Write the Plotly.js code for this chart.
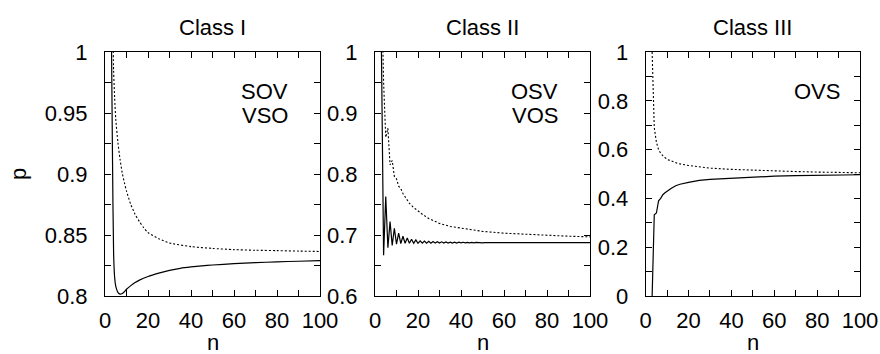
<!DOCTYPE html>
<html>
<head>
<meta charset="utf-8">
<script src="https://cdn.plot.ly/plotly-3.0.1.min.js"></script>
<style>html,body{margin:0;padding:0;background:#fff;}#chart{width:880px;height:354px;}</style>
</head>
<body>
<div id="chart"></div>
<script>
// Class I
const n1Solid = [3,3.5,4,4.5,5,5.5,6,7,8,9,10,12,14,16,20,25,30,35,40,45,50,60,70,80,90,100];
const p1Solid = [1.01,0.91,0.835,0.815,0.808,0.805,0.803,0.8015,0.802,0.8035,0.8055,0.8085,0.811,0.813,0.816,0.8187,0.821,0.8227,0.8238,0.8247,0.8254,0.8265,0.8273,0.828,0.8285,0.829];
const n1Dash = [3.5,4,4.5,5,6,7,8,9,10,12,14,16,18,20,25,30,40,50,60,70,80,90,100];
const p1Dash = [1.05,0.985,0.962,0.945,0.926,0.912,0.901,0.893,0.886,0.875,0.867,0.861,0.856,0.852,0.847,0.8435,0.8405,0.839,0.838,0.8375,0.8372,0.8368,0.8365];
// Class II
const n2Solid = [3,4,5,6,7,8,9,10,11,12,13,14,15,16,17,18,19,20,21,22,23,24,25,26,27,28,29,30,31,32,33,34,35,36,37,38,39,40,41,42,43,44,45,46,47,48,49,50,51,52,53,54,56,60,70,80,90,100];
const p2Solid = [1.0,0.667,0.763,0.679,0.722,0.683,0.711,0.685,0.703,0.686,0.698,0.6865,0.695,0.6865,0.693,0.6865,0.692,0.6864,0.6905,0.6865,0.69,0.6866,0.6896,0.6866,0.6893,0.6867,0.689,0.6867,0.6888,0.6868,0.6886,0.6868,0.6884,0.6869,0.6883,0.6869,0.6882,0.687,0.6881,0.687,0.688,0.6871,0.6879,0.6871,0.6878,0.6872,0.6877,0.6872,0.6876,0.6873,0.6875,0.6874,0.6874,0.6874,0.6874,0.6874,0.6874,0.6874];
const n2Dash = [3,4,5,6,7,8,9,10,11,12,13,14,15,16,18,20,22,25,30,35,40,50,60,70,80,90,100];
const p2Dash = [1.12,0.95,0.86,0.875,0.815,0.822,0.796,0.792,0.78,0.776,0.768,0.762,0.757,0.752,0.745,0.739,0.734,0.727,0.719,0.714,0.711,0.706,0.703,0.701,0.699,0.698,0.697];
// Class III
const n3Solid = [3,4,5,6,7,8,9,10,12,14,16,20,25,30,40,50,60,70,80,90,100];
const p3Solid = [0,0.333,0.34,0.39,0.4,0.415,0.423,0.43,0.442,0.452,0.458,0.466,0.474,0.478,0.483,0.488,0.491,0.493,0.495,0.496,0.497];
const n3Dash = [3,4,5,6,7,8,10,12,15,20,25,30,40,50,60,70,80,90,100];
const p3Dash = [1.0,0.69,0.63,0.6,0.585,0.575,0.56,0.552,0.543,0.535,0.528,0.524,0.519,0.515,0.512,0.51,0.508,0.506,0.505];

const panelTitles = ['Class I','Class II','Class III'];
const panelLabels = [['SOV','VSO'],['OSV','VOS'],['OVS']];
const xTickVals = [0,10,20,30,40,50,60,70,80,90,100];
const xTickText = ['0','','20','','40','','60','','80','','100'];
const y1TickVals = [0.8,0.825,0.85,0.875,0.9,0.925,0.95,0.975,1];
const y1TickText = ['0.8','','0.85','','0.9','','0.95','','1'];
const y2TickVals = [0.6,0.65,0.7,0.75,0.8,0.85,0.9,0.95,1];
const y2TickText = ['0.6','','0.7','','0.8','','0.9','','1'];
const y3TickVals = [0,0.1,0.2,0.3,0.4,0.5,0.6,0.7,0.8,0.9,1];
const y3TickText = ['0','','0.2','','0.4','','0.6','','0.8','','1'];

const W = 880, H = 354;
const FONT = {family: '"Liberation Sans", Arial, Helvetica, sans-serif', size: 22, color: '#000'};
const xDom = [[105/W, 320/W], [375/W, 590/W], [645.7/W, 860/W]];
const yDom = [1 - 296/H, 1 - 52/H];

const solidLine = {color: '#000', width: 1.2};
const dashLine = {color: '#000', width: 1.1, dash: '2px,2px'};

const traces = [
  {x: n1Solid, y: p1Solid, xaxis: 'x', yaxis: 'y', mode: 'lines', line: Object.assign({shape: 'spline', smoothing: 0.6}, solidLine)},
  {x: n1Dash, y: p1Dash, xaxis: 'x', yaxis: 'y', mode: 'lines', line: Object.assign({shape: 'spline', smoothing: 0.6}, dashLine)},
  {x: n2Solid, y: p2Solid, xaxis: 'x2', yaxis: 'y2', mode: 'lines', line: solidLine},
  {x: n2Dash, y: p2Dash, xaxis: 'x2', yaxis: 'y2', mode: 'lines', line: dashLine},
  {x: n3Solid, y: p3Solid, xaxis: 'x3', yaxis: 'y3', mode: 'lines', line: solidLine},
  {x: n3Dash, y: p3Dash, xaxis: 'x3', yaxis: 'y3', mode: 'lines', line: dashLine}
];

function xAxis(i) {
  return {
    domain: xDom[i], range: [0, 100], anchor: i === 0 ? 'y' : 'y' + (i + 1),
    tickmode: 'array', tickvals: xTickVals, ticktext: xTickText,
    ticks: 'inside', ticklen: 6, tickwidth: 1, tickcolor: '#000',
    showline: true, linecolor: '#000', linewidth: 1, mirror: 'ticks',
    showgrid: false, zeroline: false, tickfont: FONT, ticklabelstandoff: 5
  };
}
function yAxis(i, vals, text, range) {
  return {
    domain: yDom, range: range, anchor: i === 0 ? 'x' : 'x' + (i + 1),
    tickmode: 'array', tickvals: vals, ticktext: text,
    ticks: 'inside', ticklen: 6, tickwidth: 1, tickcolor: '#000',
    showline: true, linecolor: '#000', linewidth: 1, mirror: 'ticks',
    showgrid: false, zeroline: false, tickfont: FONT, ticklabelstandoff: 12
  };
}

const annotations = [];
panelTitles.forEach((t, i) => {
  const cx = (xDom[i][0] + xDom[i][1]) / 2;
  annotations.push({text: t, xref: 'paper', yref: 'paper', x: cx, y: 1 - 27/H, xanchor: 'center', yanchor: 'middle', showarrow: false, font: FONT});
  annotations.push({text: 'n', xref: 'paper', yref: 'paper', x: cx, y: 1 - 342/H, xanchor: 'center', yanchor: 'middle', showarrow: false, font: FONT});
});
const labelRight = [290, 560, 842];
panelLabels.forEach((lines, i) => {
  lines.forEach((t, k) => {
    annotations.push({text: t, xref: 'paper', yref: 'paper', x: labelRight[i]/W, y: 1 - (91 + 25*k)/H, xanchor: 'right', yanchor: 'middle', showarrow: false, font: FONT});
  });
});
annotations.push({text: 'p', xref: 'paper', yref: 'paper', x: 18/W, y: 1 - 174/H, xanchor: 'center', yanchor: 'middle', textangle: -90, showarrow: false, font: FONT});

const layout = {
  width: W, height: H,
  margin: {l: 0, r: 0, t: 0, b: 0},
  paper_bgcolor: '#fff', plot_bgcolor: '#fff',
  showlegend: false, font: FONT,
  xaxis: xAxis(0), xaxis2: xAxis(1), xaxis3: xAxis(2),
  yaxis: yAxis(0, y1TickVals, y1TickText, [0.8, 1]),
  yaxis2: yAxis(1, y2TickVals, y2TickText, [0.6, 1]),
  yaxis3: yAxis(2, y3TickVals, y3TickText, [0, 1]),
  annotations: annotations
};

Plotly.newPlot('chart', traces, layout, {displayModeBar: false, staticPlot: true});
</script>
</body>
</html>
